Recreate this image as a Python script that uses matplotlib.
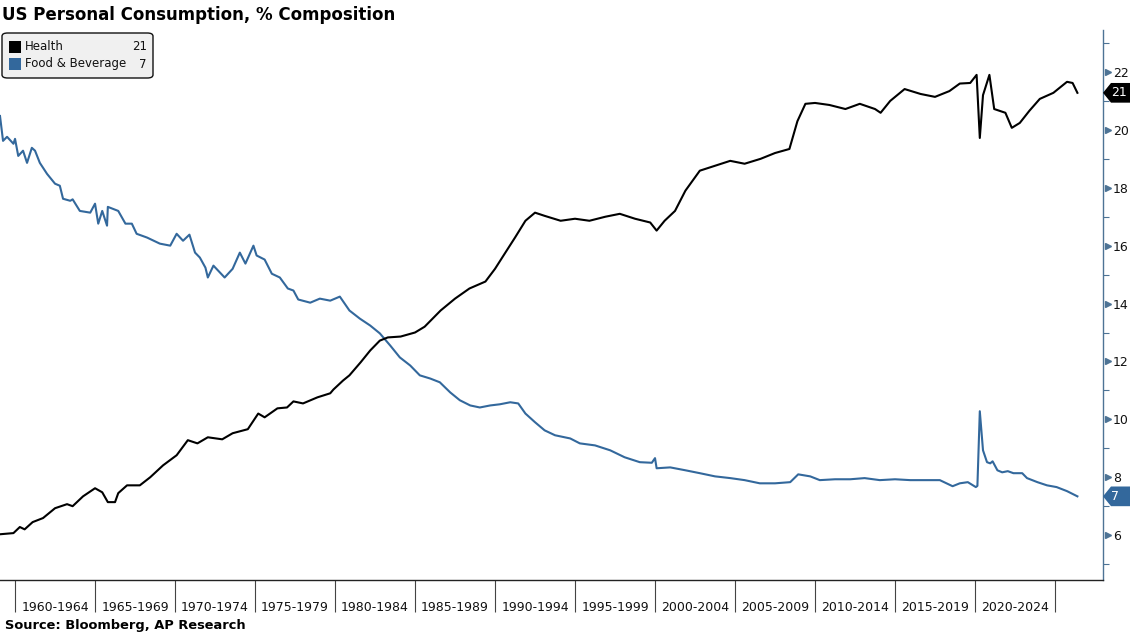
import matplotlib
matplotlib.use("Agg")
import matplotlib.pyplot as plt
import matplotlib.transforms as mtransforms
from matplotlib.patches import FancyBboxPatch, Polygon, Rectangle
from matplotlib.ticker import FixedLocator, NullFormatter

# Health share of US personal consumption (%)
health_years = [1959.06, 1959.9, 1960.3, 1960.6, 1961.1, 1961.75, 1962.5, 1963.25, 1963.6, 1964.25,
                1965.0, 1965.45, 1965.8, 1966.25, 1966.45, 1967.0, 1967.8, 1968.45, 1969.25, 1970.1,
                1970.8, 1971.4, 1972.05, 1972.95, 1973.6, 1974.55, 1975.2, 1975.6, 1976.4, 1977.0,
                1977.4, 1978.0, 1978.9, 1979.7, 1979.9, 1980.5, 1980.9, 1981.6, 1982.2, 1982.8,
                1983.3, 1984.1, 1985.0, 1985.6, 1986.6, 1987.5, 1988.4, 1989.4, 1990.0, 1990.6,
                1991.25, 1991.9, 1992.5, 1993.1, 1994.1, 1995.0, 1995.9, 1996.9, 1997.8, 1998.75,
                1999.7, 2000.1, 2000.6, 2001.25, 2001.9, 2002.8, 2003.75, 2004.7, 2005.6, 2006.6,
                2007.5, 2008.4, 2008.9, 2009.4, 2010.0, 2010.9, 2011.9, 2012.8, 2013.75, 2014.1,
                2014.7, 2015.6, 2016.6, 2017.5, 2018.4, 2019.05, 2019.7, 2020.1, 2020.3, 2020.5,
                2020.9, 2021.2, 2021.9, 2022.3, 2022.8, 2023.4, 2024.05, 2024.9, 2025.75, 2026.1,
                2026.4]
health = [6.03, 6.07, 6.28, 6.2, 6.45, 6.59, 6.93, 7.07, 7.0, 7.34,
          7.62, 7.48, 7.14, 7.14, 7.45, 7.72, 7.72, 8.0, 8.41, 8.76,
          9.28, 9.17, 9.38, 9.31, 9.52, 9.66, 10.2, 10.07, 10.38, 10.41,
          10.62, 10.55, 10.76, 10.9, 11.03, 11.34, 11.52, 11.97, 12.38, 12.72,
          12.83, 12.86, 13.0, 13.2, 13.76, 14.17, 14.52, 14.76, 15.2, 15.72,
          16.28, 16.86, 17.14, 17.03, 16.86, 16.93, 16.86, 17.0, 17.1, 16.93,
          16.8, 16.52, 16.86, 17.2, 17.9, 18.59, 18.76, 18.93, 18.83, 19.0,
          19.2, 19.34, 20.3, 20.9, 20.93, 20.86, 20.72, 20.9, 20.72, 20.59,
          21.0, 21.41, 21.24, 21.14, 21.34, 21.6, 21.62, 21.9, 19.72, 21.2,
          21.9, 20.72, 20.59, 20.07, 20.24, 20.66, 21.07, 21.28, 21.66, 21.62,
          21.28]

# Food & Beverage share (%)
food_years = [1959.06, 1959.25, 1959.5, 1959.9, 1960.0, 1960.2, 1960.5, 1960.75, 1961.05, 1961.25,
              1961.55, 1962.0, 1962.5, 1962.8, 1963.0, 1963.45, 1963.6, 1964.05, 1964.7, 1965.0,
              1965.2, 1965.45, 1965.75, 1965.8, 1966.45, 1966.9, 1967.3, 1967.6, 1968.25, 1969.05,
              1969.7, 1970.1, 1970.5, 1970.9, 1971.25, 1971.55, 1971.9, 1972.05, 1972.4, 1973.1,
              1973.6, 1974.05, 1974.4, 1974.9, 1975.1, 1975.6, 1976.05, 1976.55, 1977.05, 1977.4,
              1977.7, 1978.45, 1979.05, 1979.7, 1980.3, 1980.9, 1981.55, 1982.2, 1982.8, 1983.45,
              1984.05, 1984.7, 1985.3, 1985.95, 1986.55, 1987.2, 1987.8, 1988.45, 1989.05, 1989.7,
              1990.3, 1990.95, 1991.45, 1991.9, 1992.5, 1993.1, 1993.75, 1994.7, 1995.3, 1996.25,
              1997.2, 1998.1, 1999.05, 1999.8, 2000.0, 2000.1, 2000.95, 2001.9, 2002.8, 2003.75,
              2004.7, 2005.6, 2006.55, 2007.5, 2008.45, 2008.95, 2009.7, 2010.3, 2011.25, 2012.2,
              2013.1, 2014.05, 2015.0, 2015.95, 2016.9, 2017.8, 2018.6, 2019.05, 2019.55, 2020.05,
              2020.15, 2020.3, 2020.5, 2020.75, 2020.95, 2021.1, 2021.4, 2021.7, 2022.05, 2022.4,
              2022.95, 2023.25, 2023.9, 2024.5, 2025.1, 2025.75, 2026.4]
food = [20.48, 19.62, 19.76, 19.52, 19.69, 19.1, 19.28, 18.86, 19.38, 19.28,
        18.86, 18.48, 18.14, 18.07, 17.62, 17.55, 17.6, 17.2, 17.14, 17.45,
        16.76, 17.2, 16.69, 17.34, 17.2, 16.76, 16.76, 16.41, 16.28, 16.07,
        16.0, 16.41, 16.17, 16.38, 15.76, 15.59, 15.24, 14.9, 15.31, 14.9,
        15.2, 15.76, 15.38, 16.0, 15.66, 15.52, 15.03, 14.9, 14.52, 14.45,
        14.14, 14.03, 14.17, 14.1, 14.24, 13.76, 13.48, 13.24, 12.97, 12.55,
        12.14, 11.86, 11.52, 11.41, 11.28, 10.93, 10.66, 10.48, 10.41, 10.48,
        10.52, 10.59, 10.55, 10.2, 9.9, 9.62, 9.45, 9.34, 9.17, 9.1,
        8.93, 8.69, 8.52, 8.5, 8.66, 8.31, 8.34, 8.24, 8.14, 8.03,
        7.97, 7.9, 7.79, 7.79, 7.83, 8.1, 8.03, 7.9, 7.93, 7.93,
        7.97, 7.9, 7.93, 7.9, 7.9, 7.9, 7.69, 7.79, 7.83, 7.66,
        7.7, 10.28, 8.93, 8.52, 8.48, 8.55, 8.24, 8.17, 8.21, 8.14,
        8.14, 7.97, 7.83, 7.72, 7.66, 7.52, 7.34]

period_starts = list(range(1960, 2030, 5))
period_labels = [f"{y}-{y + 4}" for y in range(1960, 2025, 5)]
y_ticks = [6, 8, 10, 12, 14, 16, 18, 20, 22]

series_names = ["Health", "Food & Beverage"]
legend_values = ["21", "7"]
end_labels = ["21", "7"]

BLACK = "#000000"
BLUE = "#33689c"
AXIS_BLUE = "#4d7395"

W, H = 1130, 637
fig = plt.figure(figsize=(W / 100, H / 100), dpi=100)
ax = fig.add_axes([0, 1 - 580 / H, 1103 / W, 550 / H])

ax.plot(food_years, food, color=BLUE, lw=1.5, solid_joinstyle="round")
ax.plot(health_years, health, color=BLACK, lw=1.5, solid_joinstyle="round")

ax.set_xlim(1959.06, 2028.0)
ax.set_ylim(4.45, 23.45)

for s in ["left", "top"]:
    ax.spines[s].set_visible(False)
ax.spines["bottom"].set_color("#222222")
ax.spines["bottom"].set_linewidth(1.0)
ax.spines["right"].set_color(AXIS_BLUE)
ax.spines["right"].set_linewidth(1.0)

# x axis: period separators with labels centred in between
ax.xaxis.set_major_locator(FixedLocator(period_starts))
ax.xaxis.set_major_formatter(NullFormatter())
ax.xaxis.set_minor_locator(FixedLocator([y + 2.5 for y in range(1960, 2025, 5)]))
ax.set_xticklabels(period_labels, minor=True)
ax.tick_params(axis="x", which="major", length=23, width=0.8, color="#444444", direction="out")
ax.tick_params(axis="x", which="minor", length=0, pad=15, labelsize=9, labelcolor="#111111")

# y axis on the right
ax.yaxis.tick_right()
ax.set_yticks(y_ticks)
ax.set_yticks([v for v in range(5, 24, 2)], minor=True)
ax.tick_params(axis="y", which="major", length=0, pad=7, labelsize=9, labelcolor="#111111")
ax.tick_params(axis="y", which="minor", length=4, width=0.8, color=AXIS_BLUE, direction="out")

tr = mtransforms.blended_transform_factory(ax.transAxes, ax.transData)
ax.plot([1.0045] * len(y_ticks), y_ticks, ls="none", marker=">", ms=5, color=AXIS_BLUE,
        transform=tr, clip_on=False)

# last value tags on the right axis
ftr = mtransforms.blended_transform_factory(fig.transFigure, ax.transData)
last_vals = [health[-1], food[-1]]
for val, txt, col in zip(last_vals, end_labels, [BLACK, BLUE]):
    h = 0.34
    x0 = 1103 / W
    x1 = 1111 / W
    poly = Polygon([(x0, val), (x1, val + h), (1.0, val + h), (1.0, val - h), (x1, val - h)],
                   closed=True, facecolor=col, edgecolor="none", transform=ftr, clip_on=False)
    fig.add_artist(poly)
    fig.text(1111 / W, val, txt, transform=ftr, color="white", fontsize=9, va="center", ha="left")

# title and source
fig.text(2 / W, 1 - 15 / H, "US Personal Consumption, % Composition", fontsize=12,
         fontweight="bold", va="center", ha="left")
fig.text(5 / W, 1 - 625 / H, "Source: Bloomberg, AP Research", fontsize=9.4,
         fontweight="bold", va="center", ha="left")

# legend box
box = FancyBboxPatch((2 / W, 1 - 78 / H), 151 / W, 45 / H,
                     boxstyle="round,pad=0,rounding_size=0.005", transform=fig.transFigure,
                     facecolor="#f0f0f0", edgecolor="#111111", linewidth=1.0)
fig.add_artist(box)
for i, (name, val, col) in enumerate(zip(series_names, legend_values, [BLACK, BLUE])):
    yc = 47 + i * 17
    fig.add_artist(Rectangle((9 / W, 1 - (yc + 6) / H), 12 / W, 12 / H,
                             transform=fig.transFigure, facecolor=col, edgecolor="none"))
    fig.text(25 / W, 1 - yc / H, name, fontsize=8.5, va="center", ha="left", color="#111111")
    fig.text(147 / W, 1 - yc / H, val, fontsize=8.5, va="center", ha="right", color="#111111")

fig.savefig("out.png", dpi=100)
